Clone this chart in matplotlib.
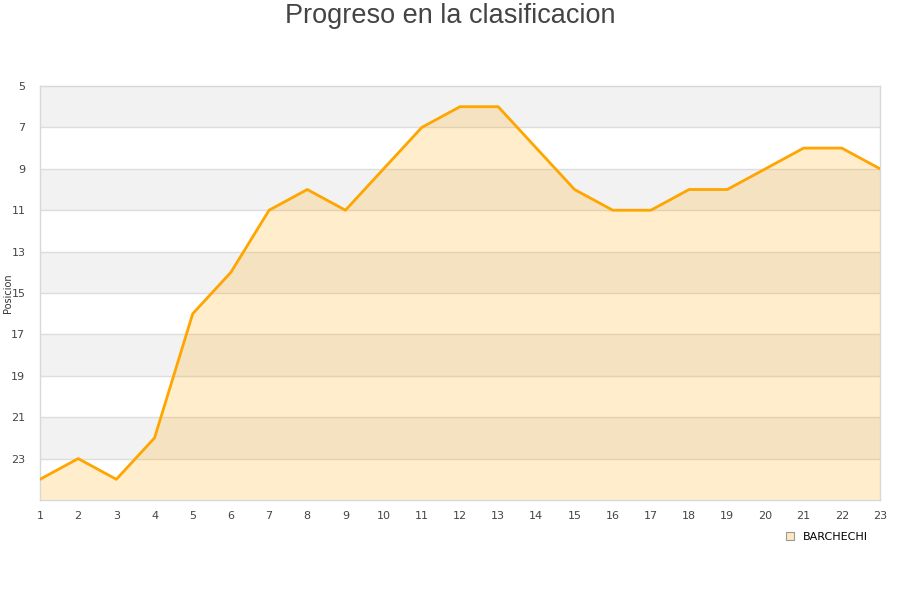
import matplotlib
matplotlib.use("Agg")
import matplotlib.pyplot as plt
from matplotlib.lines import Line2D

## DATA

jornadas = list(range(1, 24))
posicion = [24, 23, 24, 22, 16, 14, 11, 10, 11, 9, 7, 6, 6, 8, 10, 11, 11, 10, 10, 9, 8, 8, 9]
equipo = "BARCHECHI"
yticks = [5, 7, 9, 11, 13, 15, 17, 19, 21, 23]

## PLOT

fig = plt.figure(figsize=(9, 6), dpi=100)
ax = fig.add_axes([40 / 900, 1 - 500 / 600, 840 / 900, 414 / 600])

# alternating bands
for i, y0 in enumerate(range(5, 25, 2)):
    if i % 2 == 0:
        ax.axhspan(y0, y0 + 2, color="#f2f2f2", zorder=0, lw=0)
for y in yticks[1:]:
    ax.axhline(y, color="#dddddd", lw=1, zorder=1)

ax.fill_between(jornadas, posicion, 25, color="#FFA500", alpha=0.2, lw=0, zorder=2)
ax.plot(jornadas, posicion, color="#FFA500", lw=2, zorder=3)

ax.set_xlim(1, 23)
ax.set_ylim(25, 5)
ax.set_xticks(jornadas)
ax.set_yticks(yticks)
ax.tick_params(axis="x", length=0, labelsize=8, colors="#444444", pad=8)
ax.tick_params(axis="y", length=0, labelsize=8, colors="#444444", pad=10.5)
for s in ax.spines.values():
    s.set_color("#d8d8d8")
    s.set_linewidth(1)

fig.text(8 / 900, 1 - 293 / 600, "Posicion", rotation=90, ha="center", va="center",
         fontsize=7, color="#333333")

fig.text(0.5, 0.995, "Progreso en la clasificacion", ha="center", va="top",
         fontsize=19.5, color="#444444", family="Liberation Sans")

handle = Line2D([], [], marker="s", ls="none", markersize=6,
                markerfacecolor="#FFE8C0", markeredgecolor="#999999", markeredgewidth=0.8)
fig.legend([handle], [equipo], loc="center right", bbox_to_anchor=(0.975, 1 - 537 / 600),
           frameon=False, fontsize=8, handletextpad=0.6, handlelength=1)

fig.savefig("out.png", dpi=100)
